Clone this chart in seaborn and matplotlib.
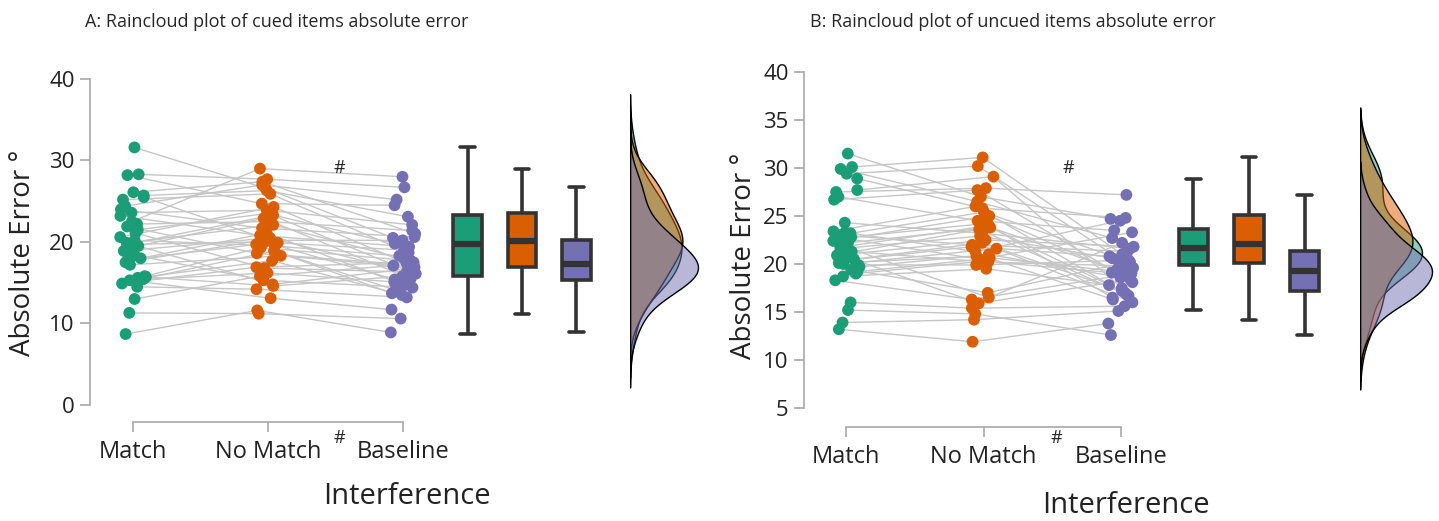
import numpy as np
import pandas as pd
import seaborn as sns
import matplotlib.pyplot as plt

CONDS = ["Match", "No Match", "Baseline"]
COLORS = ["#1b9e77", "#d95f02", "#7570b3"]

# A: cued items, one value per participant (same participant order in every list)
cued_match = [31.6, 28.3, 28.2, 26.1, 25.7, 25.5, 25.2, 24.4, 24.0, 23.6,
              23.2, 22.5, 22.2, 21.9, 21.5, 21.1, 20.6, 20.2, 19.9, 19.8,
              19.7, 19.5, 19.3, 18.9, 18.4, 18.0, 17.8, 17.5, 17.2, 15.8,
              15.7, 15.6, 15.5, 15.4, 15.3, 14.9, 14.5, 13.0, 11.3, 8.7]
cued_nomatch = [26.6, 27.7, 24.7, 27.4, 26.3, 19.9, 25.9, 27.0, 21.7, 23.9,
                20.8, 29.0, 22.5, 18.6, 23.5, 16.8, 24.3, 19.5, 22.1, 23.3,
                20.0, 14.8, 22.9, 20.5, 15.3, 21.1, 19.7, 20.2, 18.3, 19.3,
                14.6, 17.7, 18.9, 16.2, 13.1, 16.9, 14.2, 15.8, 11.2, 11.6]
cued_baseline = [20.5, 26.7, 24.5, 21.0, 23.1, 19.0, 18.7, 25.2, 20.6, 22.1,
                 19.4, 28.0, 21.4, 17.2, 16.5, 16.3, 17.4, 18.3, 17.9, 19.8,
                 15.4, 16.7, 15.5, 16.1, 14.4, 14.7, 13.7, 20.2, 16.9, 17.7,
                 15.8, 13.5, 14.1, 15.1, 11.7, 17.5, 13.2, 17.1, 10.6, 8.9]

# B: uncued items
uncued_match = [31.5, 30.1, 29.9, 29.4, 28.9, 27.7, 27.5, 27.0, 26.7, 24.3,
                23.4, 23.3, 23.2, 23.0, 22.8, 22.6, 22.4, 22.2, 22.0, 21.8,
                21.6, 21.3, 21.1, 20.9, 20.7, 20.5, 20.3, 20.1, 20.0, 19.9,
                19.7, 19.4, 19.2, 19.0, 18.7, 18.3, 16.0, 15.2, 13.9, 13.2]
uncued_nomatch = [27.0, 31.1, 26.5, 30.2, 25.8, 29.1, 27.9, 24.5, 27.7, 23.2,
                  26.0, 21.3, 25.4, 22.0, 24.2, 20.5, 25.0, 23.8, 16.5, 24.0,
                  22.9, 20.2, 23.6, 22.5, 15.9, 22.2, 21.8, 20.8, 21.6, 19.9,
                  21.0, 17.0, 20.6, 20.3, 19.5, 16.3, 15.4, 14.8, 14.2, 11.9]
uncued_baseline = [24.7, 21.0, 22.7, 19.6, 24.8, 17.5, 27.2, 23.5, 18.1, 21.6,
                   16.8, 24.5, 20.2, 21.3, 17.0, 23.3, 18.8, 19.4, 22.2, 16.5,
                   20.6, 19.8, 16.7, 21.8, 18.4, 17.2, 20.8, 19.2, 16.0, 20.4,
                   18.6, 20.0, 16.3, 19.1, 17.8, 19.0, 15.6, 12.6, 15.1, 13.8]

W, H = 1439, 521
PALETTE = dict(zip(CONDS, COLORS))


def rect(left, top, right, bottom):
    return [left / W, (H - bottom) / H, (right - left) / W, (bottom - top) / H]


def long_form(match, nomatch, baseline):
    n = len(match)
    return pd.DataFrame({
        "subject": list(range(n)) * 3,
        "Interference": np.repeat(CONDS, n),
        "error": match + nomatch + baseline,
    })


sns.set_style("ticks")
plt.rcParams["font.family"] = ["Open Sans", "DejaVu Sans"]

fig = plt.figure(figsize=(W / 100, H / 100), dpi=100)


def raincloud(df, main_px, box_px, kde_px, xlim, ylim, yticks, cut, kde_scale):
    ax = fig.add_axes(rect(*main_px))
    axb = fig.add_axes(rect(*box_px), sharey=ax)
    axk = fig.add_axes(rect(*kde_px), sharey=ax)

    np.random.seed(3)
    sns.stripplot(df, x="Interference", y="error", hue="Interference",
                  order=CONDS, hue_order=CONDS, palette=PALETTE, jitter=0.1,
                  size=8.5, linewidth=0, zorder=3, legend=False, ax=ax)
    # connect each participant across conditions
    pts = [c.get_offsets() for c in ax.collections[:3]]
    for i in range(len(pts[0])):
        ax.plot([p[i, 0] for p in pts], [p[i, 1] for p in pts],
                color="#c6c6c6", lw=1, zorder=1)

    sns.boxplot(df, x="Interference", y="error", hue="Interference",
                order=CONDS, hue_order=CONDS, palette=PALETTE, saturation=1,
                width=0.53, showfliers=False, linecolor="#333333",
                linewidth=2.6, medianprops={"linewidth": 4.5},
                legend=False, ax=axb)
    axb.set_xlim(-0.6, 2.6)
    axb.axis("off")

    # purple drawn last so it sits on top
    sns.kdeplot(df, y="error", hue="Interference", hue_order=CONDS[::-1],
                palette=PALETTE, fill=True, alpha=0.5, common_norm=False,
                edgecolor="black", linewidth=1, cut=cut, legend=False, ax=axk)
    dmax = max(np.max(c.get_paths()[0].vertices[:, 0]) for c in axk.collections)
    axk.set_xlim(0, dmax * kde_scale)
    axk.axis("off")

    ax.set_xlim(*xlim)
    ax.set_ylim(*ylim)
    ax.set_yticks(yticks)
    ax.set_xticks([0, 1, 2], CONDS)
    for side in ["top", "right"]:
        ax.spines[side].set_visible(False)
    ax.spines["left"].set_bounds(yticks[0], yticks[-1])
    ax.spines["bottom"].set_bounds(0, 2)
    for side in ["left", "bottom"]:
        ax.spines[side].set_color("#a8a8a8")
        ax.spines[side].set_linewidth(1.2)
    ax.tick_params(axis="both", length=7, width=1.2, color="#a8a8a8",
                   labelcolor="#222222")
    ax.tick_params(axis="y", labelsize=16, pad=4)
    ax.tick_params(axis="x", labelsize=17, pad=6)
    ax.set_xlabel("")
    ax.set_ylabel("Absolute Error °", fontsize=20, color="#222222")
    return ax


axA = raincloud(long_form(cued_match, cued_nomatch, cued_baseline),
                (90, 70, 430, 422), (435, 70, 609, 422), (630, 70, 710, 422),
                (-0.319, 2.2), (-2.09, 41.1), [0, 10, 20, 30, 40], 2.8, 80 / 68)
axA.yaxis.set_label_coords(-0.156, 0.48)
axA.text(1.53, 29.1, "#", ha="center", va="center", fontsize=13)
axA.text(1.53, -0.045, "#", transform=axA.get_xaxis_transform(),
         ha="center", va="center", fontsize=13)
axA.text(2.03, -0.213, "Interference", transform=axA.get_xaxis_transform(),
         ha="center", va="center", fontsize=21, color="#222222")

axB = raincloud(long_form(uncued_match, uncued_nomatch, uncued_baseline),
                (804, 62, 1155, 427), (1160, 62, 1338, 427), (1360, 62, 1439, 427),
                (-0.309, 2.25), (3.02, 41.04), [5, 10, 15, 20, 25, 30, 35, 40],
                2.3, 79 / 72)
axB.yaxis.set_label_coords(-0.131, 0.468)
axB.text(1.62, 30.0, "#", ha="center", va="center", fontsize=13)
axB.text(1.53, -0.03, "#", transform=axB.get_xaxis_transform(),
         ha="center", va="center", fontsize=13)
axB.text(2.04, -0.214, "Interference", transform=axB.get_xaxis_transform(),
         ha="center", va="center", fontsize=21, color="#222222")

fig.text(85 / W, 1 - 22 / H, "A: Raincloud plot of cued items absolute error",
         ha="left", va="center", fontsize=13)
fig.text(810 / W, 1 - 22 / H, "B: Raincloud plot of uncued items absolute error",
         ha="left", va="center", fontsize=13)

fig.savefig("out.png", dpi=100)
